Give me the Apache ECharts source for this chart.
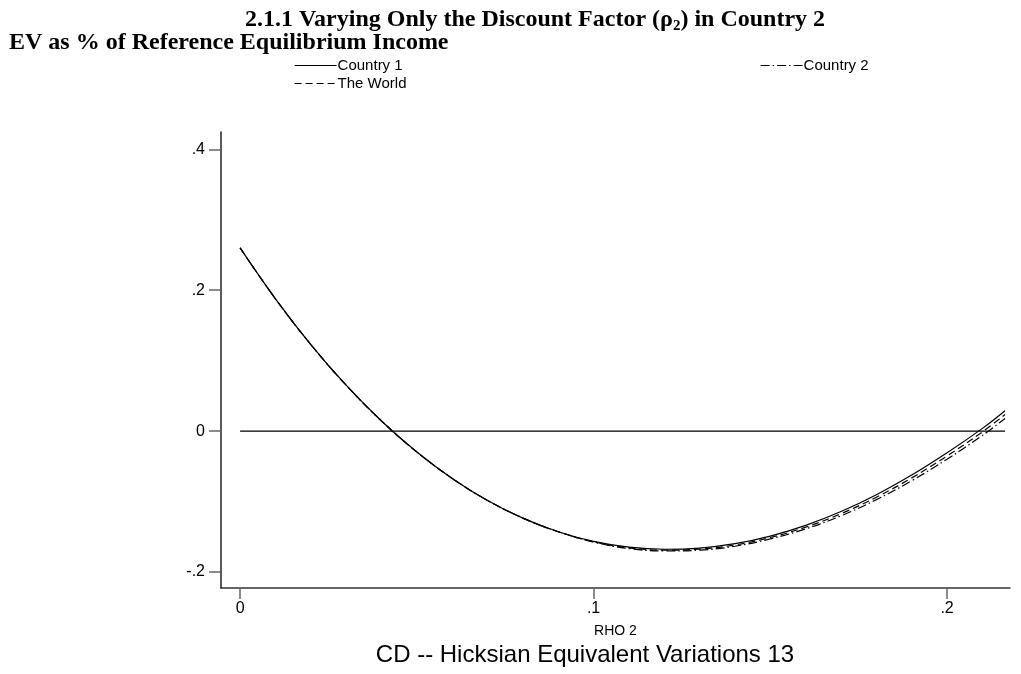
<!DOCTYPE html>
<html>
<head>
<meta charset="utf-8">
<script src="https://cdn.jsdelivr.net/npm/echarts@6/dist/echarts.min.js"></script>
<style>
html,body{margin:0;padding:0;background:#fff;}
#chart{width:1021px;height:674px;}
</style>
</head>
<body>
<div id="chart"></div>
<script>
// ---- data ----
var rho = [0, 0.01, 0.02, 0.03, 0.04, 0.05, 0.06, 0.07, 0.08, 0.09, 0.10, 0.11, 0.12, 0.13, 0.14, 0.15, 0.16, 0.17, 0.18, 0.19, 0.20, 0.21, 0.2164];
var country1 = [0.260, 0.1878, 0.1229, 0.0652, 0.0144, -0.0296, -0.0671, -0.0984, -0.1235, -0.1428, -0.1565, -0.1647, -0.1677, -0.1660, -0.1598, -0.1490, -0.1338, -0.1142, -0.0903, -0.0624, -0.0308, 0.0039, 0.0290];
var country2 = [0.260, 0.1878, 0.1229, 0.0652, 0.0144, -0.0296, -0.0671, -0.0984, -0.1235, -0.1428, -0.1575, -0.1667, -0.1701, -0.1690, -0.1634, -0.1530, -0.1388, -0.1202, -0.0973, -0.0704, -0.0398, -0.0061, 0.0180];
var world = [0.260, 0.1878, 0.1229, 0.0652, 0.0144, -0.0296, -0.0671, -0.0984, -0.1235, -0.1428, -0.1570, -0.1657, -0.1689, -0.1675, -0.1616, -0.1510, -0.1363, -0.1172, -0.0938, -0.0664, -0.0353, -0.0011, 0.0235];
var zeroLine = [0, 0, 0, 0, 0, 0, 0, 0, 0, 0, 0, 0, 0, 0, 0, 0, 0, 0, 0, 0, 0, 0, 0];
var xTicks = [0, 0.1, 0.2];
var yTicks = [-0.2, 0, 0.2, 0.4];
var titleMain = ['2.1.1 Varying Only the Discount Factor (\u03c1', '2', ') in Country 2'];
var titleY = 'EV as % of Reference Equilibrium Income';
var xName = 'RHO 2';
var noteText = 'CD -- Hicksian Equivalent Variations 13';
var seriesNames = ['Country 1', 'Country 2', 'The World'];

function pairs(xs, ys) { return xs.map(function (x, i) { return [x, ys[i]]; }); }
function fmt(v) {
  if (Math.abs(v) < 1e-9) return '0';
  var s = String(Math.round(v * 10) / 10);
  return s.replace(/^0\./, '.').replace(/^-0\./, '-.');
}

var chart = echarts.init(document.getElementById('chart'), null, { renderer: 'canvas' });
var serif = '"Liberation Serif","Times New Roman",serif';
var sans = '"Liberation Sans",Arial,sans-serif';

function legendBox(name, left, top) {
  return {
    data: [name], left: left, top: top, itemWidth: 42, itemHeight: 12, itemGap: 4, selectedMode: false,
    itemStyle: { opacity: 0, borderWidth: 0 },
    lineStyle: { width: 1.2 },
    textStyle: { fontFamily: sans, fontSize: 15, color: '#000', padding: [0, 0, 0, -4] }
  };
}

var option = {
  backgroundColor: '#ffffff',
  animation: false,
  title: [
    {
      text: '{a|' + titleMain[0] + '}{s|' + titleMain[1] + '}{a|' + titleMain[2] + '}',
      left: 530, top: 1, textAlign: 'center',
      textStyle: {
        rich: {
          a: { fontFamily: serif, fontWeight: 'bold', fontSize: 24, color: '#000', lineHeight: 28 },
          s: { fontFamily: serif, fontWeight: 'bold', fontSize: 15, color: '#000', lineHeight: 28, verticalAlign: 'bottom', padding: [9, 0, 0, 0] }
        }
      }
    },
    {
      text: titleY, left: 4, top: 26,
      textStyle: { fontFamily: serif, fontWeight: 'bold', fontSize: 24, color: '#000' }
    },
    {
      text: noteText, left: 580, top: 638, textAlign: 'center',
      textStyle: { fontFamily: sans, fontWeight: 'normal', fontSize: 24, color: '#000' }
    }
  ],
  legend: [
    legendBox(seriesNames[0], 289, 53),
    legendBox(seriesNames[1], 755, 53),
    legendBox(seriesNames[2], 289, 71)
  ],
  grid: { left: 221, top: 132, right: 11, bottom: 86, containLabel: false },
  xAxis: {
    type: 'value', min: -0.0054, max: 0.2178,
    name: xName, nameLocation: 'middle', nameGap: 36,
    nameTextStyle: { fontFamily: sans, fontSize: 14, color: '#000' },
    axisLine: { show: true, onZero: false, lineStyle: { color: '#333', width: 1.5 } },
    axisTick: { show: true, length: 11, customValues: xTicks, lineStyle: { color: '#666', width: 1.5 } },
    axisLabel: { customValues: xTicks, formatter: fmt, margin: 13, fontFamily: sans, fontSize: 16, color: '#000' },
    splitLine: { show: false }
  },
  yAxis: {
    type: 'value', min: -0.2227, max: 0.4246,
    axisLine: { show: true, onZero: false, lineStyle: { color: '#222', width: 1.5 } },
    axisTick: { show: true, length: 12, customValues: yTicks, lineStyle: { color: '#666', width: 1.5 } },
    axisLabel: { customValues: yTicks, formatter: fmt, margin: 16, fontFamily: sans, fontSize: 16, color: '#000' },
    splitLine: { show: false }
  },
  series: [
    { name: seriesNames[0], type: 'line', data: pairs(rho, country1), smooth: 0.4, symbol: 'none',
      lineStyle: { color: '#000', width: 1.2, type: 'solid' }, itemStyle: { color: '#000' }, z: 5 },
    { name: seriesNames[1], type: 'line', data: pairs(rho, country2), smooth: 0.4, symbol: 'none',
      lineStyle: { color: '#000', width: 1.2, type: [9, 3, 1.5, 3] }, itemStyle: { color: '#000' }, z: 4 },
    { name: seriesNames[2], type: 'line', data: pairs(rho, world), smooth: 0.4, symbol: 'none',
      lineStyle: { color: '#000', width: 1.2, type: [7, 4] }, itemStyle: { color: '#000' }, z: 3 },
    { name: 'zero', type: 'line', data: pairs(rho, zeroLine), symbol: 'none', silent: true,
      lineStyle: { color: '#000', width: 1.2 }, z: 2 }
  ]
};
chart.setOption(option);
</script>
</body>
</html>
